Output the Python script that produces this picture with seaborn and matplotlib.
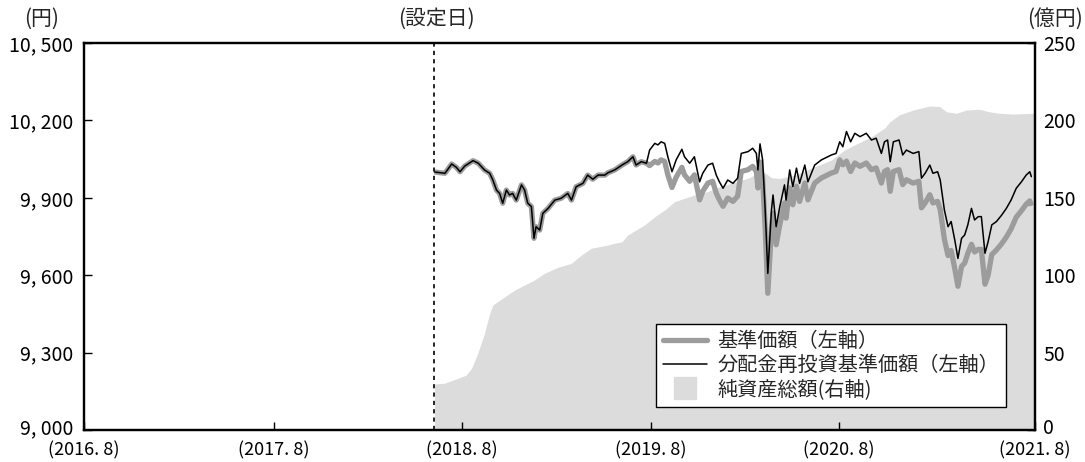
import matplotlib
matplotlib.use("Agg")
import matplotlib.pyplot as plt
from matplotlib.lines import Line2D
from matplotlib.transforms import ScaledTranslation
import pandas as pd
import seaborn as sns

# ---------------- data ----------------
setting_date = "2018-06-04"

price_dates = [
    "2018-06-05", "2018-06-25", "2018-07-08", "2018-07-17", "2018-07-24", "2018-08-02",
    "2018-08-18", "2018-08-28", "2018-09-09", "2018-09-19", "2018-09-25", "2018-10-02",
    "2018-10-08", "2018-10-14", "2018-10-21", "2018-10-27", "2018-11-02", "2018-11-09",
    "2018-11-19", "2018-11-25", "2018-12-01", "2018-12-08", "2018-12-13", "2018-12-17",
    "2018-12-24", "2018-12-30", "2019-01-09", "2019-01-22", "2019-02-03", "2019-02-16",
    "2019-02-23", "2019-03-04", "2019-03-17", "2019-03-26", "2019-04-05", "2019-04-15",
    "2019-04-28", "2019-05-04", "2019-05-17", "2019-05-31", "2019-06-11", "2019-06-21",
    "2019-06-27", "2019-07-07", "2019-07-17", "2019-07-23", "2019-08-02", "2019-08-08",
    "2019-08-14", "2019-08-21", "2019-08-27", "2019-09-04", "2019-09-12", "2019-09-23",
    "2019-09-28", "2019-10-08", "2019-10-17", "2019-10-27", "2019-11-02", "2019-11-12",
    "2019-11-21", "2019-11-28", "2019-12-04", "2019-12-11", "2019-12-20", "2019-12-30",
    "2020-01-08", "2020-01-15", "2020-01-28", "2020-02-06", "2020-02-13", "2020-02-16",
    "2020-02-20", "2020-02-25", "2020-03-01", "2020-03-06", "2020-03-13", "2020-03-16",
    "2020-03-22", "2020-03-29", "2020-04-07", "2020-04-10", "2020-04-17", "2020-04-23",
    "2020-04-30", "2020-05-06", "2020-05-16", "2020-05-22", "2020-06-04", "2020-06-17",
    "2020-07-06", "2020-07-15", "2020-07-22", "2020-07-28", "2020-08-04", "2020-08-12",
    "2020-08-20", "2020-08-30", "2020-09-11", "2020-09-21", "2020-09-30", "2020-10-10",
    "2020-10-16", "2020-10-22", "2020-10-27", "2020-11-02", "2020-11-13", "2020-11-20",
    "2020-11-27", "2020-12-10", "2020-12-21", "2020-12-26", "2021-01-02", "2021-01-11",
    "2021-01-17", "2021-01-26", "2021-01-31", "2021-02-08", "2021-02-15", "2021-02-21",
    "2021-02-28", "2021-03-06", "2021-03-13", "2021-03-19", "2021-03-25", "2021-04-01",
    "2021-04-07", "2021-04-14", "2021-04-20", "2021-04-27", "2021-05-03", "2021-05-10",
    "2021-05-19", "2021-05-29", "2021-06-07", "2021-06-16", "2021-06-26", "2021-07-06",
    "2021-07-15", "2021-07-22", "2021-07-25",
]

# 分配金再投資基準価額 (yen)
reinvest_vals = [
    10000, 9995, 10031, 10018, 10001, 10023,
    10044, 10034, 10008, 9995, 9969, 9930,
    9917, 9879, 9930, 9911, 9917, 9891,
    9950, 9930, 9879, 9866, 9743, 9788,
    9775, 9840, 9859, 9891, 9898, 9917,
    9891, 9943, 9956, 9988, 9972, 9988,
    9988, 9997, 10008, 10027, 10040, 10059,
    10027, 10040, 10034, 10085, 10111, 10105,
    10117, 10111, 10059, 10001, 10047, 10088,
    10059, 10034, 10059, 9962, 9995, 10027,
    10034, 9988, 9962, 9937, 9969, 9956,
    9976, 10072, 10079, 10092, 10072, 10008,
    10109, 10047, 9850, 9607, 9853, 9911,
    9788, 9866, 9950, 9891, 10008, 9943,
    10015, 9956, 10027, 9962, 10027, 10047,
    10066, 10072, 10117, 10098, 10157, 10117,
    10150, 10137, 10150, 10124, 10131, 10072,
    10117, 10124, 10040, 10117, 10124, 10066,
    10085, 10072, 10079, 9976, 9995, 10027,
    9995, 10001, 9969, 9853, 9788, 9808,
    9736, 9665, 9743, 9756, 9795, 9859,
    9814, 9827, 9827, 9685, 9730, 9795,
    9808, 9833, 9859, 9891, 9937, 9962,
    9988, 10001, 9982,
]

# 基準価額 (yen)
base_vals = [
    10000, 9995, 10031, 10018, 10001, 10023,
    10044, 10034, 10008, 9995, 9969, 9930,
    9917, 9879, 9930, 9911, 9917, 9891,
    9950, 9930, 9879, 9866, 9743, 9788,
    9775, 9840, 9859, 9891, 9898, 9917,
    9891, 9943, 9956, 9988, 9972, 9988,
    9988, 9997, 10008, 10027, 10040, 10059,
    10027, 10040, 10034, 10025, 10041, 10035,
    10047, 10041, 9989, 9940, 9980, 10018,
    9989, 9964, 9989, 9892, 9925, 9957,
    9964, 9918, 9892, 9867, 9899, 9886,
    9906, 10002, 10009, 10022, 10002, 9938,
    10039, 9977, 9780, 9530, 9783, 9841,
    9718, 9796, 9880, 9821, 9938, 9873,
    9945, 9886, 9957, 9892, 9957, 9977,
    9996, 10002, 10047, 10028, 10042, 10002,
    10035, 10022, 10035, 10009, 10016, 9957,
    10002, 10009, 9925, 10002, 10009, 9951,
    9970, 9957, 9964, 9861, 9880, 9912,
    9880, 9886, 9854, 9740, 9676, 9696,
    9625, 9557, 9634, 9647, 9685, 9720,
    9690, 9700, 9700, 9565, 9600, 9680,
    9698, 9722, 9748, 9779, 9825, 9850,
    9875, 9888, 9869,
]

nav_dates = [
    "2018-06-05", "2018-06-24", "2018-07-20", "2018-08-05", "2018-08-15", "2018-08-27",
    "2018-09-09", "2018-09-19", "2018-09-25", "2018-10-18", "2018-11-06", "2018-11-25",
    "2018-12-14", "2019-01-02", "2019-01-28", "2019-02-23", "2019-03-14", "2019-04-02",
    "2019-05-04", "2019-05-17", "2019-05-31", "2019-06-11", "2019-07-13", "2019-08-02",
    "2019-08-21", "2019-09-09", "2019-09-28", "2019-10-17", "2019-11-11", "2019-12-04",
    "2020-01-02", "2020-01-31", "2020-02-19", "2020-03-01", "2020-03-13", "2020-03-29",
    "2020-04-27", "2020-05-28", "2020-07-06", "2020-08-01", "2020-08-26", "2020-09-21",
    "2020-10-16", "2020-10-26", "2020-11-13", "2020-12-10", "2021-01-11", "2021-01-30",
    "2021-02-12", "2021-03-03", "2021-03-22", "2021-04-16", "2021-05-05", "2021-05-24",
    "2021-06-19", "2021-07-31",
]

# 純資産総額 (億円)
nav_vals = [
    29.7, 30.2, 33.4, 35.5, 39.8, 49.5,
    62.5, 75.4, 80.8, 86.1, 90.4, 93.7,
    96.9, 101.2, 105.1, 107.7, 113.0, 117.4,
    119.5, 120.6, 121.6, 126.0, 132.4, 137.8,
    142.1, 147.5, 149.7, 151.8, 154.0, 157.0,
    160.0, 163.0, 167.0, 166.0, 163.0, 162.5,
    164.7, 169.0, 174.4, 181.0, 185.2, 189.5,
    194.9, 199.0, 203.5, 206.7, 209.3, 208.9,
    205.6, 204.6, 206.7, 207.2, 205.6, 204.6,
    204.1, 204.6,
]

xlim_dates = ["2016-08-01", "2021-08-01"]
xtick_dates = ["2016-08-01", "2017-07-31", "2018-07-27", "2019-07-25", "2020-07-21", "2021-08-01"]
xtick_labels = ["(2016. 8)", "(2017. 8)", "(2018. 8)", "(2019. 8)", "(2020. 8)", "(2021. 8)"]
left_ticks = [9000, 9300, 9600, 9900, 10200, 10500]
left_tick_labels = ["9, 000", "9, 300", "9, 600", "9, 900", "10, 200", "10, 500"]
right_ticks = [0, 50, 100, 150, 200, 250]
right_tick_labels = ["0", "50", "100", "150", "200", "250"]

legend_labels = ["基準価額（左軸）", "分配金再投資基準価額（左軸）", "純資産総額(右軸)"]

# ---------------- style ----------------
sns.set_theme(style="white")
plt.rcParams["font.family"] = ["Noto Sans CJK JP", "DejaVu Sans"]
plt.rcParams["axes.unicode_minus"] = False

GRAY_LINE = "#9c9c9c"
FILL = "#dcdcdc"
FS = 14.5
TFS = 14
XFS = 13

W, H = 1085, 462
fig = plt.figure(figsize=(W / 100, H / 100), dpi=100)
ax = fig.add_axes([84 / W, 1 - 430 / H, 951 / W, 387 / H])
ax2 = ax.twinx()
ax.set_zorder(2)
ax2.set_zorder(1)
ax.patch.set_visible(False)

df = pd.DataFrame({
    "date": pd.to_datetime(price_dates),
    "base": base_vals,
    "reinvest": reinvest_vals,
})
nav = pd.DataFrame({"date": pd.to_datetime(nav_dates), "nav": nav_vals})

sns.lineplot(data=df, x="date", y="base", ax=ax, color=GRAY_LINE, linewidth=3.8,
             estimator=None, solid_capstyle="butt")
sns.lineplot(data=df, x="date", y="reinvest", ax=ax, color="black", linewidth=1.1,
             estimator=None)
ax2.fill_between(nav["date"], nav["nav"], 0, color=FILL, linewidth=0)

ax.axvline(pd.Timestamp(setting_date), color="black", linewidth=1.2, linestyle=(0, (2.5, 2.5)))

ax.set_xlim(pd.Timestamp(xlim_dates[0]), pd.Timestamp(xlim_dates[1]))
ax.set_ylim(9000, 10500)
ax2.set_ylim(0, 250)

ax.set_xticks(pd.to_datetime(xtick_dates))
ax.set_xticklabels(xtick_labels)
ax.set_yticks(left_ticks)
ax.set_yticklabels(left_tick_labels)
ax2.set_yticks(right_ticks)
ax2.set_yticklabels(right_tick_labels)

ax.set_xlabel("")
ax.set_ylabel("")
ax2.set_ylabel("")

ax.tick_params(axis="x", bottom=True, direction="in", length=6, width=1.0, color="black",
               labelsize=XFS, labelcolor="black", pad=8)
ax.tick_params(axis="y", left=True, right=False, direction="in", length=6, width=1.0, color="black",
               labelsize=TFS, labelcolor="black", pad=8)
ax2.tick_params(axis="y", right=True, left=False, direction="in", length=6, width=1.0, color="black",
                labelsize=TFS, labelcolor="black", pad=6)

# lift the two corner y labels a few pixels so they clear the date labels
lift = ScaledTranslation(0, 4 / 100, fig.dpi_scale_trans)
for lab in (ax.get_yticklabels()[0], ax2.get_yticklabels()[0]):
    lab.set_transform(lab.get_transform() + lift)

for a in (ax, ax2):
    for s in a.spines.values():
        s.set_visible(True)
        s.set_color("black")
        s.set_linewidth(1.6)
    a.grid(False)

handles = [
    Line2D([], [], color=GRAY_LINE, linewidth=3.8),
    Line2D([], [], color="black", linewidth=1.1),
    Line2D([], [], marker="s", markersize=16, color=FILL, linestyle="none"),
]
leg = ax.legend(handles, legend_labels, loc="lower right",
                bbox_to_anchor=(0.9695, 0.0594), borderaxespad=0,
                fontsize=FS, frameon=True, fancybox=False, framealpha=1,
                edgecolor="black", facecolor="white",
                handlelength=2.2, handletextpad=0.5, labelspacing=0.15, borderpad=0.35)
leg.get_frame().set_linewidth(1.0)

fig.text(42 / W, 1 - 19 / H, "(円)", ha="center", va="center", fontsize=15)
fig.text(436 / W, 1 - 19 / H, "(設定日)", ha="center", va="center", fontsize=15)
fig.text(1055 / W, 1 - 19 / H, "(億円)", ha="center", va="center", fontsize=15)

fig.savefig("out.png", dpi=100)
